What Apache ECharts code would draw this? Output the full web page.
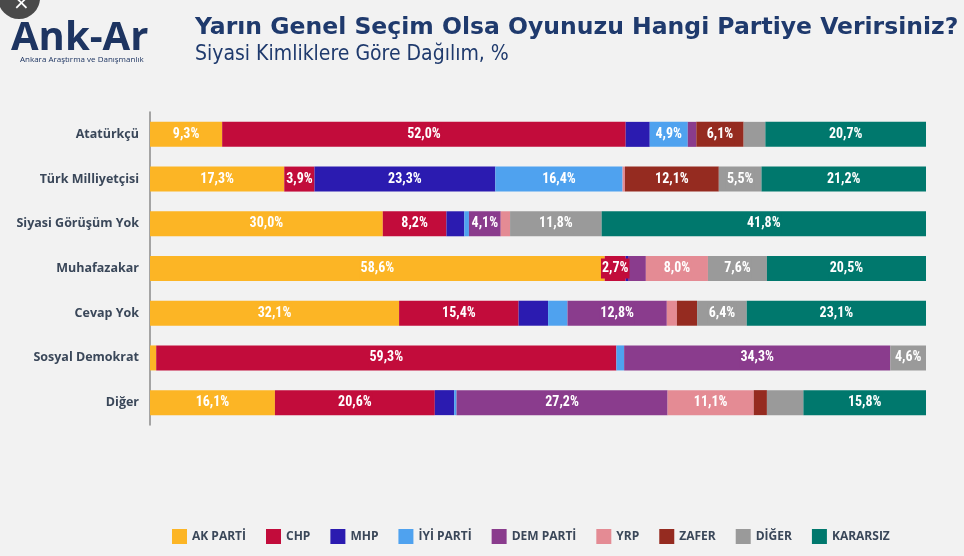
<!DOCTYPE html>
<html>
<head>
<meta charset="utf-8">
<script src="https://cdn.jsdelivr.net/npm/echarts@6/dist/echarts.min.js"></script>
<style>
html,body{margin:0;padding:0;background:#f2f2f2;}
#chart{width:964px;height:556px;}
</style>
</head>
<body>
<div id="chart"></div>
<script>
// ---- data ----
const categories = ["Atatürkçü", "Türk Milliyetçisi", "Siyasi Görüşüm Yok", "Muhafazakar", "Cevap Yok", "Sosyal Demokrat", "Diğer"];
const parties = ["AK PARTİ", "CHP", "MHP", "İYİ PARTİ", "DEM PARTİ", "YRP", "ZAFER", "DİĞER", "KARARSIZ"];
const akParti  = [9.3, 17.3, 30.0, 58.6, 32.1, 0.8, 16.1];
const chp      = [52.0, 3.9, 8.2, 2.7, 15.4, 59.3, 20.6];
const mhp      = [3.1, 23.3, 2.3, 0.3, 3.8, 0, 2.5];
const iyiParti = [4.9, 16.4, 0.6, 0, 2.5, 1.0, 0.3];
const demParti = [1.1, 0, 4.1, 2.3, 12.8, 34.3, 27.2];
const yrp      = [0, 0.3, 1.2, 8.0, 1.3, 0, 11.1];
const zafer    = [6.1, 12.1, 0, 0, 2.6, 0, 1.7];
const diger    = [2.8, 5.5, 11.8, 7.6, 6.4, 4.6, 4.7];
const kararsiz = [20.7, 21.2, 41.8, 20.5, 23.1, 0, 15.8];
// segments whose value label is shown / hidden regardless of size
const labelThreshold = 3.9;
const forceLabel = [["CHP", "Muhafazakar"]];
const hideLabel = [["DİĞER", "Diğer"]];

const seriesValues = [akParti, chp, mhp, iyiParti, demParti, yrp, zafer, diger, kararsiz];
const colors = ["#fcb525", "#c20c3b", "#2b1bb0", "#4fa2ef", "#8a3c8d", "#e48b94", "#952b20", "#9a9a9a", "#00786d"];

function fmt(v){ return v.toFixed(1).replace('.', ',') + '%'; }
function showLabel(party, catIdx, v){
  const cat = categories[catIdx];
  if (forceLabel.some(p => p[0] === party && p[1] === cat)) return true;
  if (hideLabel.some(p => p[0] === party && p[1] === cat)) return false;
  return v >= labelThreshold;
}

const labelFont = '"Liberation Sans Narrow", "Roboto Condensed", "Liberation Sans", sans-serif';

const series = parties.map((name, si) => ({
  name: name,
  type: 'bar',
  stack: 'total',
  barWidth: 25,
  itemStyle: { color: colors[si] },
  emphasis: { disabled: true },
  data: seriesValues[si].map((v, ci) => ({
    value: v,
    label: {
      show: v > 0 && showLabel(name, ci, v),
      position: 'inside',
      formatter: () => fmt(v),
      color: '#ffffff',
      fontWeight: 'bold',
      fontSize: 14,
      fontFamily: labelFont,
      backgroundColor: colors[si],
      padding: [3, 1]
    }
  }))
}));

const chart = echarts.init(document.getElementById('chart'), null, {renderer: 'canvas'});
chart.setOption({
  backgroundColor: '#f2f2f2',
  animation: false,
  title: [
    {
      text: 'Yarın Genel Seçim Olsa Oyunuzu Hangi Partiye Verirsiniz?',
      left: 190, top: 11,
      textStyle: { color: '#1f3a6d', fontSize: 23.5, fontWeight: 'bold', fontFamily: '"DejaVu Sans", Verdana, sans-serif' }
    },
    {
      text: 'Siyasi Kimliklere Göre Dağılım, %',
      left: 190, top: 39,
      textStyle: { color: '#1f3a6d', fontSize: 21, fontWeight: 'normal', fontFamily: '"DejaVu Sans Condensed", "DejaVu Sans", sans-serif' }
    }
  ],
  legend: {
    data: parties,
    left: 167, top: 524,
    icon: 'rect',
    itemWidth: 15, itemHeight: 15, itemGap: 20,
    textStyle: { color: '#3a4759', fontWeight: 'bold', fontSize: 12, fontFamily: '"Open Sans", sans-serif' }
  },
  grid: { left: 150, right: 38, top: 112, bottom: 131, containLabel: false },
  xAxis: {
    type: 'value', min: 0, max: 100,
    show: false
  },
  yAxis: {
    type: 'category',
    data: categories,
    inverse: true,
    axisLine: { show: true, lineStyle: { color: '#8a8a8a', width: 1.5 } },
    axisTick: { show: false },
    axisLabel: { color: '#3a4759', fontWeight: 'bold', fontSize: 12.5, fontFamily: '"Open Sans", sans-serif', margin: 11 }
  },
  graphic: [
    { type: 'circle', shape: { cx: 19, cy: -2, r: 21 }, style: { fill: '#4a4a4a' } },
    { type: 'text', left: 13, top: -6, style: { text: '×', fill: '#ffffff', font: '20px "DejaVu Sans"' } },
    { type: 'text', left: 11, top: 19, style: { text: 'Ank-Ar', fill: '#1d3461', font: 'bold 40px "Open Sans", sans-serif' } },
    { type: 'text', left: 20, top: 56, style: { text: 'Ankara Araştırma ve Danışmanlık', fill: '#1d3461', font: '8px "Open Sans", sans-serif' } }
  ],
  series: series
});
</script>
</body>
</html>
